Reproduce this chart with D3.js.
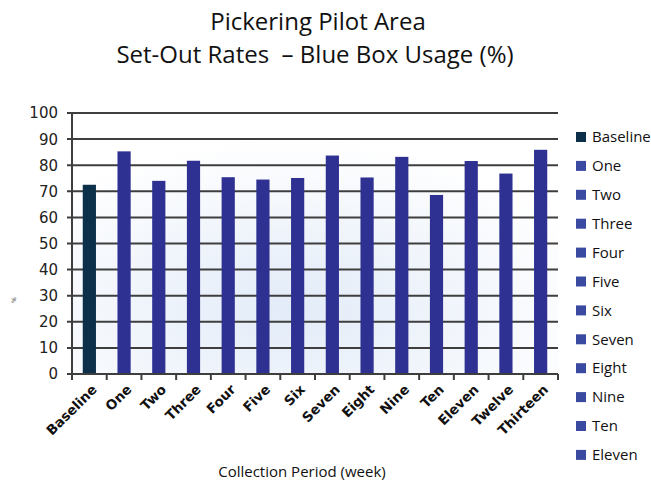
<!DOCTYPE html>
<html>
<head>
<meta charset="utf-8">
<script src="https://cdn.jsdelivr.net/npm/d3@7.9.0/dist/d3.min.js"></script>
<style>
  body { margin: 0; background: #fff; }
  svg { display: block; }
</style>
</head>
<body>
<svg id="chart" width="651" height="485"></svg>
<script>
const weeks = ['Baseline', 'One', 'Two', 'Three', 'Four', 'Five', 'Six',
  'Seven', 'Eight', 'Nine', 'Ten', 'Eleven', 'Twelve', 'Thirteen'];
const usage = [72.5, 85.3, 74, 81.7, 75.4, 74.5, 75.1, 83.7, 75.3, 83.2, 68.6, 81.6, 76.8, 85.9];
const yTicks = [0, 10, 20, 30, 40, 50, 60, 70, 80, 90, 100];
const legendShown = weeks.slice(0, 12);

const margin = { top: 113, left: 72, right: 93, bottom: 111 };
const width = 651, height = 485;

const svg = d3.select('#chart');

const x = d3.scaleBand()
  .domain(weeks)
  .range([margin.left, width - margin.right])
  .paddingInner(0.62)
  .paddingOuter(0.31);

const y = d3.scaleLinear()
  .domain([0, 100])
  .range([height - margin.bottom, margin.top]);

const barColor = (d) => d === 'Baseline' ? '#0c2f4a' : '#2e3192';

// faint blue wash in the plot area
const defs = svg.append('defs');
const grad = defs.append('radialGradient')
  .attr('id', 'wash')
  .attr('cx', '45%').attr('cy', '75%').attr('r', '65%');
grad.append('stop').attr('offset', '0%').attr('stop-color', '#e2ebf8');
grad.append('stop').attr('offset', '100%').attr('stop-color', '#ffffff');

svg.append('rect')
  .attr('x', margin.left)
  .attr('y', y(100))
  .attr('width', width - margin.right - margin.left)
  .attr('height', y(0) - y(100))
  .attr('fill', 'url(#wash)');

// gridlines
svg.append('g')
  .selectAll('line')
  .data(yTicks)
  .join('line')
  .attr('x1', margin.left - 5)
  .attr('x2', width - margin.right)
  .attr('y1', (d) => y(d))
  .attr('y2', (d) => y(d))
  .attr('stroke', '#3e3e3e')
  .attr('stroke-width', 2);

// y labels
svg.append('g')
  .selectAll('text')
  .data(yTicks)
  .join('text')
  .attr('x', 58)
  .attr('y', (d) => y(d))
  .attr('dy', '0.36em')
  .attr('text-anchor', 'end')
  .attr('font-family', 'DejaVu Sans, sans-serif')
  .attr('font-size', 15)
  .attr('fill', '#222')
  .text((d) => d);

// small rotated y title (barely legible in the source)
svg.append('text')
  .attr('transform', 'translate(16,300) rotate(-90)')
  .attr('text-anchor', 'middle')
  .attr('font-family', 'DejaVu Sans, sans-serif')
  .attr('font-size', 6)
  .attr('fill', '#333')
  .text('%');

// bars
svg.append('g')
  .selectAll('rect')
  .data(weeks)
  .join('rect')
  .attr('x', (d) => x(d))
  .attr('y', (d, i) => y(usage[i]))
  .attr('width', x.bandwidth())
  .attr('height', (d, i) => y(0) - y(usage[i]))
  .attr('fill', barColor);

// y axis line
svg.append('line')
  .attr('x1', margin.left).attr('x2', margin.left)
  .attr('y1', y(100)).attr('y2', y(0))
  .attr('stroke', '#3e3e3e')
  .attr('stroke-width', 2);

// x axis line + ticks at band edges
const edges = d3.range(weeks.length + 1).map((i) => margin.left + i * (width - margin.right - margin.left) / weeks.length);
svg.append('line')
  .attr('x1', margin.left - 5).attr('x2', width - margin.right)
  .attr('y1', y(0)).attr('y2', y(0))
  .attr('stroke', '#3e3e3e')
  .attr('stroke-width', 2);
svg.append('g')
  .selectAll('line')
  .data(edges)
  .join('line')
  .attr('x1', (d) => d).attr('x2', (d) => d)
  .attr('y1', y(0)).attr('y2', y(0) + 6)
  .attr('stroke', '#3e3e3e')
  .attr('stroke-width', 2);

// x labels
svg.append('g')
  .selectAll('text')
  .data(weeks)
  .join('text')
  .attr('transform', (d) => `translate(${x(d) + x.bandwidth() / 2 + 5},${y(0) + 13}) rotate(-45)`)
  .attr('text-anchor', 'end')
  .attr('dy', '0.35em')
  .attr('font-family', 'DejaVu Sans, sans-serif')
  .attr('font-weight', 'bold')
  .attr('font-size', 13.5)
  .attr('fill', '#111')
  .text((d) => d);

// titles
svg.append('text')
  .attr('x', 318).attr('y', 30)
  .attr('text-anchor', 'middle')
  .attr('font-family', 'Open Sans, sans-serif')
  .attr('font-size', 24)
  .attr('fill', '#111')
  .text('Pickering Pilot Area');
svg.append('text')
  .attr('x', 315).attr('y', 63)
  .attr('text-anchor', 'middle')
  .attr('font-family', 'Open Sans, sans-serif')
  .attr('font-size', 24)
  .attr('fill', '#111')
  .attr('xml:space', 'preserve')
  .text('Set-Out Rates  \u2013 Blue Box Usage (%)');

svg.append('text')
  .attr('x', 302).attr('y', 477)
  .attr('text-anchor', 'middle')
  .attr('font-family', 'Open Sans, sans-serif')
  .attr('font-size', 15)
  .attr('fill', '#111')
  .text('Collection Period (week)');

// legend
const legend = svg.append('g');
const items = legend.selectAll('g')
  .data(legendShown)
  .join('g')
  .attr('transform', (d, i) => `translate(576,${137 + i * 28.9})`);
items.append('rect')
  .attr('x', 0).attr('y', -5)
  .attr('width', 10).attr('height', 10)
  .attr('fill', (d) => d === 'Baseline' ? '#0c2f4a' : '#3a4aa0');
items.append('text')
  .attr('x', 16)
  .attr('dy', '0.35em')
  .attr('font-family', 'Open Sans, sans-serif')
  .attr('font-size', 15)
  .attr('fill', '#111')
  .text((d) => d);
</script>
</body>
</html>
